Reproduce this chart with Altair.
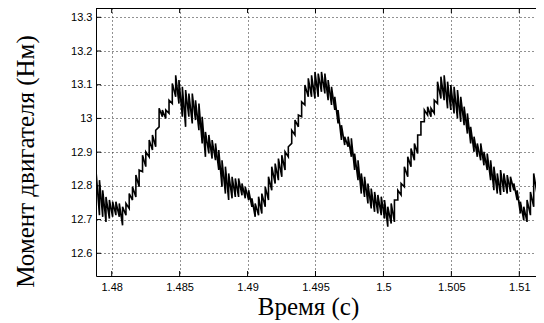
import altair as alt
import pandas as pd

# sample times (s)
time_s = [
    1.47885, 1.47910, 1.47934, 1.47958, 1.47983, 1.48007, 1.48031, 1.48056, 1.48080, 1.48105,
    1.48129, 1.48153, 1.48178, 1.48202, 1.48227, 1.48251, 1.48276, 1.48300, 1.48324, 1.48349,
    1.48373, 1.48398, 1.48422, 1.48446, 1.48471, 1.48495, 1.48520, 1.48544, 1.48568, 1.48593,
    1.48617, 1.48642, 1.48666, 1.48690, 1.48715, 1.48739, 1.48764, 1.48788, 1.48812, 1.48837,
    1.48861, 1.48886, 1.48910, 1.48934, 1.48959, 1.48983, 1.49008, 1.49032, 1.49056, 1.49081,
    1.49105, 1.49130, 1.49154, 1.49178, 1.49203, 1.49227, 1.49252, 1.49276, 1.49300, 1.49325,
    1.49349, 1.49374, 1.49398, 1.49422, 1.49447, 1.49471, 1.49496, 1.49520, 1.49544, 1.49569,
    1.49593, 1.49618, 1.49642, 1.49666, 1.49691, 1.49715, 1.49740, 1.49764, 1.49788, 1.49813,
    1.49837, 1.49861, 1.49886, 1.49910, 1.49935, 1.49959, 1.49984, 1.50008, 1.50032, 1.50057,
    1.50081, 1.50106, 1.50130, 1.50154, 1.50179, 1.50203, 1.50228, 1.50252, 1.50276, 1.50301,
    1.50325, 1.50350, 1.50374, 1.50398, 1.50423, 1.50447, 1.50472, 1.50496, 1.50520, 1.50545,
    1.50569, 1.50594, 1.50618, 1.50642, 1.50667, 1.50691, 1.50716, 1.50740, 1.50764, 1.50789,
    1.50813, 1.50838, 1.50862, 1.50886, 1.50911, 1.50935, 1.50960, 1.50984, 1.51008, 1.51033,
    1.51057, 1.51082, 1.51106, 1.51130, 1.51155,
]

# lower edge of the ripple band (N*m)
torque_low = [
    12.723, 12.713, 12.708, 12.693, 12.703, 12.708, 12.713, 12.708, 12.683, 12.713,
    12.733, 12.758, 12.767, 12.797, 12.842, 12.857, 12.886, 12.906, 12.916, 12.975,
    13.005, 13.000, 13.015, 13.044, 13.064, 13.044, 13.005, 12.975, 13.005, 12.985,
    12.995, 12.965, 12.926, 12.886, 12.896, 12.881, 12.876, 12.847, 12.797, 12.777,
    12.758, 12.763, 12.767, 12.767, 12.772, 12.763, 12.758, 12.738, 12.708, 12.713,
    12.718, 12.738, 12.758, 12.787, 12.807, 12.817, 12.827, 12.847, 12.886, 12.926,
    12.951, 12.975, 13.005, 13.040, 13.064, 13.064, 13.059, 13.064, 13.079, 13.074,
    13.054, 13.040, 13.025, 12.985, 12.936, 12.921, 12.916, 12.886, 12.847, 12.817,
    12.777, 12.767, 12.748, 12.733, 12.723, 12.718, 12.713, 12.703, 12.679, 12.688,
    12.693, 12.758, 12.773, 12.797, 12.827, 12.857, 12.876, 12.896, 12.951, 12.990,
    13.010, 13.005, 13.015, 13.044, 13.059, 13.054, 13.030, 13.025, 13.015, 13.000,
    12.990, 12.980, 12.955, 12.926, 12.901, 12.886, 12.876, 12.861, 12.847, 12.817,
    12.787, 12.777, 12.773, 12.782, 12.777, 12.782, 12.787, 12.758, 12.718, 12.698,
    12.693, 12.713, 12.738, 12.777, 12.787,
]

# upper edge of the ripple band (N*m)
torque_high = [
    12.842, 12.817, 12.787, 12.767, 12.758, 12.753, 12.753, 12.748, 12.738, 12.748,
    12.777, 12.797, 12.832, 12.847, 12.891, 12.901, 12.936, 12.951, 12.965, 13.030,
    13.025, 13.025, 13.054, 13.104, 13.128, 13.114, 13.094, 13.084, 13.074, 13.074,
    13.054, 13.044, 13.005, 12.960, 12.951, 12.936, 12.926, 12.906, 12.876, 12.857,
    12.837, 12.827, 12.822, 12.822, 12.807, 12.797, 12.787, 12.763, 12.748, 12.768,
    12.777, 12.797, 12.827, 12.857, 12.866, 12.881, 12.891, 12.901, 12.916, 12.965,
    12.995, 13.010, 13.049, 13.099, 13.119, 13.128, 13.138, 13.133, 13.138, 13.133,
    13.114, 13.094, 13.064, 13.025, 12.980, 12.946, 12.946, 12.941, 12.896, 12.876,
    12.837, 12.827, 12.807, 12.792, 12.782, 12.773, 12.768, 12.758, 12.738, 12.748,
    12.758, 12.787, 12.807, 12.857, 12.886, 12.911, 12.926, 12.951, 12.990, 13.025,
    13.035, 13.030, 13.054, 13.109, 13.124, 13.128, 13.109, 13.099, 13.094, 13.084,
    13.064, 13.035, 13.015, 12.975, 12.946, 12.926, 12.926, 12.901, 12.896, 12.876,
    12.857, 12.837, 12.847, 12.837, 12.832, 12.827, 12.807, 12.787, 12.753, 12.738,
    12.758, 12.782, 12.837, 12.857, 12.886,
]

x_ticks = [1.48, 1.485, 1.49, 1.495, 1.5, 1.505, 1.51]
y_ticks = [12.6, 12.7, 12.8, 12.9, 13.0, 13.1, 13.2, 13.3]
x_domain = [1.478845, 1.511229]
y_domain = [12.5326, 13.3276]

W, H = 440, 268

rows = []
for i, (t, lo, hi) in enumerate(zip(time_s, torque_low, torque_high)):
    rows.append({"t": t, "v": lo, "o": 2 * i})
    rows.append({"t": t, "v": hi, "o": 2 * i + 1})
df = pd.DataFrame(rows)

xs = alt.Scale(domain=x_domain, nice=False, zero=False)
ys = alt.Scale(domain=y_domain, nice=False, zero=False)

label_font = "Liberation Sans"
title_font = "Liberation Serif"

common = dict(grid=True, gridDash=[1, 3], gridColor="#222", gridWidth=1,
              ticks=False, domainColor="black", domainWidth=1,
              labelFont=label_font, labelFontSize=11, labelColor="black",
              titleFont=title_font, titleFontSize=25, titleFontWeight="normal",
              titleColor="black", format="~g")

x_axis = alt.Axis(values=x_ticks, title="Время (с)",
                  titleX=212, titleY=38, titleAlign="center",
                  titleBaseline="alphabetic", labelPadding=5, **common)
y_axis = alt.Axis(values=y_ticks, title="Момент двигателя (Нм)",
                  titleX=-63, titleY=153, titleAngle=270, titleAlign="center",
                  titleBaseline="alphabetic", labelPadding=4, **common)

line = alt.Chart(df).mark_line(color="black", strokeWidth=1.6, clip=True).encode(
    x=alt.X("t:Q", scale=xs, axis=x_axis),
    y=alt.Y("v:Q", scale=ys, axis=y_axis),
    order="o:Q",
)

xt = pd.DataFrame({"t": x_ticks})
yt = pd.DataFrame({"v": y_ticks})

xtick_bottom = alt.Chart(xt).mark_rule(color="black").encode(
    x=alt.X("t:Q", scale=xs, axis=x_axis), y=alt.value(H), y2=alt.value(H - 5))
xtick_top = alt.Chart(xt).mark_rule(color="black").encode(
    x=alt.X("t:Q", scale=xs, axis=x_axis), y=alt.value(0), y2=alt.value(5))
ytick_left = alt.Chart(yt).mark_rule(color="black").encode(
    y=alt.Y("v:Q", scale=ys, axis=y_axis), x=alt.value(0), x2=alt.value(5))
top_border = alt.Chart(xt).mark_rule(color="black", strokeWidth=1).encode(
    y=alt.value(0.5), x=alt.value(0), x2=alt.value(W))

chart = alt.layer(line, xtick_bottom, xtick_top, ytick_left, top_border).properties(
    width=W, height=H,
    background="white",
    autosize=alt.AutoSizeParams(type="none"),
    padding={"left": 88, "top": 0, "right": 0, "bottom": 50},
).configure_view(stroke=None)

chart.save("out.html", embed_options={"renderer": "svg", "actions": False})
